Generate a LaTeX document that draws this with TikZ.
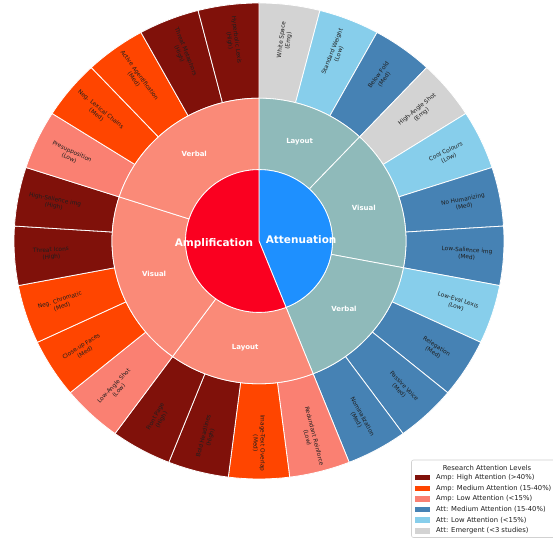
\documentclass[tikz,border=0pt]{standalone}
\usepackage{fontspec}
\setmainfont{DejaVu Sans}
\definecolor{ampHigh}{RGB}{128,17,10}
\definecolor{ampMed}{RGB}{255,69,0}
\definecolor{ampLow}{RGB}{250,128,114}
\definecolor{attMed}{RGB}{70,130,180}
\definecolor{attLow}{RGB}{135,206,235}
\definecolor{attEmg}{RGB}{211,211,211}
\definecolor{ampCore}{RGB}{250,0,32}
\definecolor{attCore}{RGB}{30,144,255}
\definecolor{ampMid}{RGB}{250,138,120}
\definecolor{attMid}{RGB}{143,186,186}
\definecolor{txt}{RGB}{30,30,30}
\tikzset{
  wedgeline/.style={draw=white, line width=0.8pt},
  outerlabel/.style={align=center, text=txt, inner sep=0pt, font=\fontsize{5.8}{7}\selectfont},
  midlabel/.style={text=white, inner sep=0pt, font=\bfseries\fontsize{7}{8}\selectfont},
  corelabel/.style={text=white, inner sep=0pt, font=\bfseries\fontsize{10.5}{12}\selectfont},
  legtext/.style={anchor=west, text=txt, inner sep=0pt, font=\fontsize{6.8}{8}\selectfont},
  legpatch/.style={minimum width=15pt, minimum height=5.5pt, inner sep=0pt}
}
\begin{document}
\begin{tikzpicture}[x=1pt,y=1pt]
\useasboundingbox (0,0) rectangle (553,540);
\clip (0,0) rectangle (553,540);
\fill[white] (0,0) rectangle (553,540);
\begin{scope}[shift={(259,299)}, xscale=245, yscale=238]
  % outer ring
  \foreach \nm/\lv/\cl [count=\k from 0] in {
    White Space/Emg/attEmg,
    Standard Weight/Low/attLow,
    Below Fold/Med/attMed,
    High-Angle Shot/Emg/attEmg,
    Cool Colours/Low/attLow,
    No Humanizing/Med/attMed,
    Low-Salience img/Med/attMed,
    Low-Eval Lexis/Low/attLow,
    Relegation/Med/attMed,
    Passive Voice/Med/attMed,
    Nominalization/Med/attMed,
    Redundant Reinforce/Low/ampLow,
    Image-Text Overlap/Med/ampMed,
    Bold Headlines/High/ampHigh,
    Front Page/High/ampHigh,
    Low-Angle Shot/Low/ampLow,
    Close-up Faces/Med/ampMed,
    Neg. Chromatic/Med/ampMed,
    Threat Icons/High/ampHigh,
    High-Salience img/High/ampHigh,
    Presupposition/Low/ampLow,
    Neg. Lexical Chains/Med/ampMed,
    Active Agentification/Med/ampMed,
    Threat Metaphors/High/ampHigh,
    Hyperbolic Lexis/High/ampHigh}
  {
    \pgfmathsetmacro\aA{90-14.4*\k}
    \pgfmathsetmacro\aB{\aA-14.4}
    \pgfmathsetmacro\aM{\aA-7.2}
    \pgfmathsetmacro\rot{\aM < -90.5 ? \aM+180 : \aM}
    \filldraw[fill=\cl, wedgeline] (\aA:0.6) arc[start angle=\aA, end angle=\aB, radius=0.6]
      -- (\aB:1) arc[start angle=\aB, end angle=\aA, radius=1] -- cycle;
    \node[outerlabel, rotate=\rot] (o\k) at (\aM:0.85) {\nm\\(\lv)};
  }
  % middle ring
  \foreach \nm/\aA/\aB/\cl [count=\j] in {
    Layout/90/46.8/attMid,
    Visual/46.8/-10.8/attMid,
    Verbal/-10.8/-68.4/attMid,
    Layout/-68.4/-126/ampMid,
    Visual/-126/-198/ampMid,
    Verbal/-198/-270/ampMid}
  {
    \pgfmathsetmacro\aM{(\aA+\aB)/2}
    \filldraw[fill=\cl, wedgeline] (\aA:0.3) arc[start angle=\aA, end angle=\aB, radius=0.3]
      -- (\aB:0.6) arc[start angle=\aB, end angle=\aA, radius=0.6] -- cycle;
    \node[midlabel] (m\j) at (\aM:0.45) {\nm};
  }
  % core
  \filldraw[fill=attCore, wedgeline] (0,0) -- (90:0.3) arc[start angle=90, end angle=-68.4, radius=0.3] -- cycle;
  \filldraw[fill=ampCore, wedgeline] (0,0) -- (-68.4:0.3) arc[start angle=-68.4, end angle=-270, radius=0.3] -- cycle;
  \node[corelabel] (att) at (0.172,0.008) {Attenuation};
  \node[corelabel] (amp) at (-0.184,-0.013) {Amplification};
\end{scope}
% legend
\filldraw[fill=white, draw=black!18, line width=0.6pt, rounded corners=2pt] (411.5,2.5) rectangle (620,80);
\node[text=txt, inner sep=0pt, font=\fontsize{6.8}{8}\selectfont] (legtitle) at (487,72.5) {Research Attention Levels};
\foreach \lt/\cl/\yy [count=\i] in {
  Amp: High Attention (>40\%)/ampHigh/62.3,
  Amp: Medium Attention (15-40\%)/ampMed/51.7,
  Amp: Low Attention (<15\%)/ampLow/41.2,
  Att: Medium Attention (15-40\%)/attMed/30.7,
  Att: Low Attention (<15\%)/attLow/19.8,
  Att: Emergent (<3 studies)/attEmg/9.1}
{
  \node[legpatch, fill=\cl] (lp\i) at (422.5,\yy) {};
  \node[legtext] (lt\i) at (436,\yy) {\lt};
}
\end{tikzpicture}
\end{document}
